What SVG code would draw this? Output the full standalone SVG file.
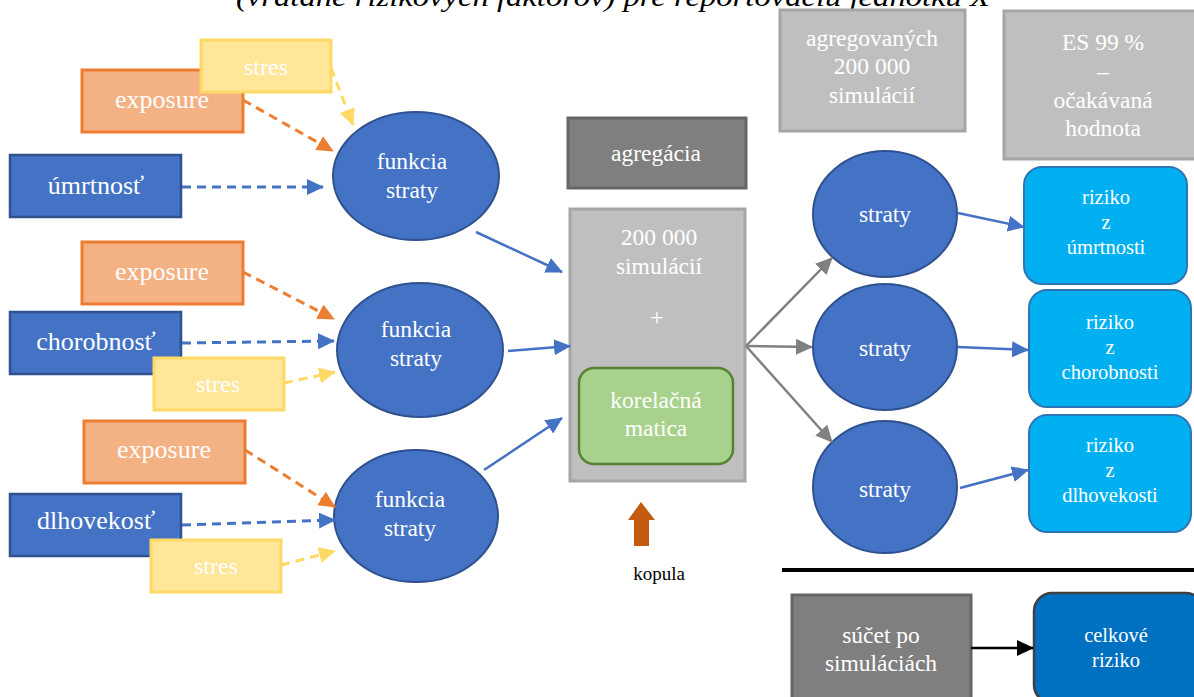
<svg xmlns="http://www.w3.org/2000/svg" width="1194" height="697" viewBox="0 0 1194 697">
<style>
.t{font-family:"Liberation Serif","Times New Roman",serif;font-size:23.5px;fill:#fff;text-anchor:middle;dominant-baseline:central}
.L{font-size:26px}
.S{font-size:24px}
.R{font-size:20.5px}
.title{font-family:"Liberation Serif","Times New Roman",serif;font-size:27px;font-style:italic;fill:#000}
.exp{fill:#F4B183;stroke:#ED7D31;stroke-width:3}
.str{fill:#FFE699;stroke:#FFD966;stroke-width:3}
.blu{fill:#4472C4;stroke:#2F528F;stroke-width:2.5}
.ell{fill:#4472C4;stroke:#2F528F;stroke-width:2}
.gry{fill:#BFBFBF;stroke:#A5A5A5;stroke-width:3}
.dgr{fill:#7F7F7F;stroke:#666;stroke-width:3}
.riz{fill:#00B0F0;stroke:#2E75B6;stroke-width:2}
.dO{stroke:#ED7D31;stroke-width:3;stroke-dasharray:9 6;fill:none}
.dY{stroke:#FFD966;stroke-width:3;stroke-dasharray:9 6;fill:none}
.dB{stroke:#4472C4;stroke-width:3;stroke-dasharray:9 6;fill:none}
.sB{stroke:#4472C4;stroke-width:2.5;fill:none}
.sG{stroke:#808080;stroke-width:2.5;fill:none}
.sK{stroke:#000;stroke-width:2.5;fill:none}
</style>
<defs>
<marker id="aO" markerUnits="userSpaceOnUse" markerWidth="18" markerHeight="18" refX="16" refY="8" orient="auto"><path d="M0,0 L17,8 L0,16 Z" fill="#ED7D31"/></marker>
<marker id="aY" markerUnits="userSpaceOnUse" markerWidth="18" markerHeight="18" refX="16" refY="8" orient="auto"><path d="M0,0 L17,8 L0,16 Z" fill="#FFD966"/></marker>
<marker id="aB" markerUnits="userSpaceOnUse" markerWidth="18" markerHeight="18" refX="16" refY="8" orient="auto"><path d="M0,0 L17,8 L0,16 Z" fill="#4472C4"/></marker>
<marker id="aG" markerUnits="userSpaceOnUse" markerWidth="18" markerHeight="18" refX="16" refY="8" orient="auto"><path d="M0,0 L17,8 L0,16 Z" fill="#808080"/></marker>
<marker id="aK" markerUnits="userSpaceOnUse" markerWidth="18" markerHeight="18" refX="16" refY="8" orient="auto"><path d="M0,0 L17,8 L0,16 Z" fill="#000"/></marker>
</defs>
<rect width="1194" height="697" fill="#fff"/>
<text class="title" x="236" y="6" textLength="754" lengthAdjust="spacingAndGlyphs">(vrátane rizikových faktorov) pre reportovaciu jednotku X</text>

<g id="exposure1"><rect class="exp" x="82" y="70" width="161" height="62"/><text class="t L" x="162" y="99">exposure</text></g>
<g id="stres1"><rect class="str" x="201" y="40" width="130" height="52"/><text class="t S" x="266" y="67">stres</text></g>
<g id="umrtnost"><rect class="blu" x="10" y="155" width="171" height="62"/><text class="t L" x="96" y="185">úmrtnosť</text></g>
<g id="funkcia1"><ellipse class="ell" cx="416" cy="176" rx="83" ry="64"/><text class="t" x="412" y="161">funkcia</text><text class="t" x="412" y="190">straty</text></g>

<g id="exposure2"><rect class="exp" x="82" y="242" width="161" height="62"/><text class="t L" x="162" y="271">exposure</text></g>
<g id="chorobnost"><rect class="blu" x="10" y="312" width="171" height="62"/><text class="t L" x="96" y="341">chorobnosť</text></g>
<g id="stres2"><rect class="str" x="154" y="358" width="130" height="52"/><text class="t S" x="218" y="384">stres</text></g>
<g id="funkcia2"><ellipse class="ell" cx="420" cy="350" rx="83" ry="67"/><text class="t" x="416" y="329">funkcia</text><text class="t" x="416" y="358">straty</text></g>

<g id="exposure3"><rect class="exp" x="84" y="421" width="161" height="62"/><text class="t L" x="164" y="449">exposure</text></g>
<g id="dlhovekost"><rect class="blu" x="10" y="494" width="171" height="62"/><text class="t L" x="96" y="520">dlhovekosť</text></g>
<g id="stres3"><rect class="str" x="151" y="540" width="130" height="52"/><text class="t S" x="216" y="566">stres</text></g>
<g id="funkcia3"><ellipse class="ell" cx="416" cy="516" rx="82" ry="66"/><text class="t" x="410" y="499">funkcia</text><text class="t" x="410" y="528">straty</text></g>

<g id="agregacia"><rect class="dgr" x="568" y="118" width="178" height="70"/><text class="t" x="656" y="153">agregácia</text></g>
<g id="simulacie"><rect class="gry" x="570" y="209" width="175" height="272"/><text class="t" x="659" y="237">200 000</text><text class="t" x="659" y="266">simulácií</text><text class="t" x="657" y="317">+</text></g>
<g id="korelacna"><rect x="579" y="368" width="154" height="96" rx="15" fill="#A9D18E" stroke="#548235" stroke-width="2.5"/><text class="t" x="656" y="400">korelačná</text><text class="t" x="656" y="428">matica</text></g>
<g id="kopula"><path d="M634,546 L634,520 L628,520 L641,502 L655,520 L649,520 L649,546 Z" fill="#C55A11"/><text x="659" y="573" font-family="Liberation Serif, serif" font-size="19" fill="#000" text-anchor="middle" dominant-baseline="central">kopula</text></g>

<g id="agregovanych"><rect class="gry" x="780" y="10" width="185" height="121"/><text class="t" x="872" y="38">agregovaných</text><text class="t" x="872" y="66">200 000</text><text class="t" x="872" y="95">simulácií</text></g>
<g id="es"><rect class="gry" x="1004" y="11" width="196" height="148"/><text class="t" x="1103" y="42">ES 99 %</text><text class="t" x="1103" y="71">–</text><text class="t" x="1103" y="100">očakávaná</text><text class="t" x="1103" y="128">hodnota</text></g>

<g id="straty1"><ellipse class="ell" cx="885" cy="214" rx="72" ry="63"/><text class="t" x="885" y="214">straty</text></g>
<g id="straty2"><ellipse class="ell" cx="885" cy="347" rx="72" ry="63"/><text class="t" x="885" y="348">straty</text></g>
<g id="straty3"><ellipse class="ell" cx="885" cy="487" rx="72" ry="66"/><text class="t" x="885" y="489">straty</text></g>

<g id="riziko1"><rect class="riz" x="1024" y="167" width="163" height="117" rx="18"/><text class="t R" x="1106" y="197">riziko</text><text class="t R" x="1106" y="222">z</text><text class="t R" x="1106" y="247">úmrtnosti</text></g>
<g id="riziko2"><rect class="riz" x="1029" y="290" width="162" height="117" rx="18"/><text class="t R" x="1110" y="322">riziko</text><text class="t R" x="1110" y="347">z</text><text class="t R" x="1110" y="372">chorobnosti</text></g>
<g id="riziko3"><rect class="riz" x="1029" y="415" width="162" height="117" rx="18"/><text class="t R" x="1110" y="445">riziko</text><text class="t R" x="1110" y="470">z</text><text class="t R" x="1110" y="495">dlhovekosti</text></g>

<line x1="782" y1="570" x2="1194" y2="570" stroke="#000" stroke-width="4"/>
<g id="sucet"><rect class="dgr" x="792" y="595" width="179" height="110"/><text class="t" x="881" y="635">súčet po</text><text class="t" x="881" y="663">simuláciách</text></g>
<g id="celkove"><rect x="1034" y="593" width="170" height="110" rx="18" fill="#0070C0" stroke="#404040" stroke-width="2.5"/><text class="t R" x="1116" y="635">celkové</text><text class="t R" x="1116" y="660">riziko</text></g>

<g id="connectors">
<line class="dO" x1="243" y1="100" x2="333" y2="151" marker-end="url(#aO)"/>
<line class="dY" x1="331" y1="68" x2="353" y2="125" marker-end="url(#aY)"/>
<line class="dB" x1="182" y1="187" x2="323" y2="187" marker-end="url(#aB)"/>
<line class="dO" x1="243" y1="272" x2="334" y2="319" marker-end="url(#aO)"/>
<line class="dB" x1="182" y1="343" x2="334" y2="341" marker-end="url(#aB)"/>
<line class="dY" x1="284" y1="383" x2="335" y2="372" marker-end="url(#aY)"/>
<line class="dO" x1="245" y1="450" x2="335" y2="507" marker-end="url(#aO)"/>
<line class="dB" x1="182" y1="525" x2="335" y2="520" marker-end="url(#aB)"/>
<line class="dY" x1="281" y1="565" x2="335" y2="551" marker-end="url(#aY)"/>
<line class="sB" x1="476" y1="232" x2="562" y2="272" marker-end="url(#aB)"/>
<line class="sB" x1="508" y1="351" x2="570" y2="346" marker-end="url(#aB)"/>
<line class="sB" x1="484" y1="470" x2="562" y2="418" marker-end="url(#aB)"/>
<line class="sG" x1="746" y1="346" x2="832" y2="258" marker-end="url(#aG)"/>
<line class="sG" x1="746" y1="346" x2="812" y2="347" marker-end="url(#aG)"/>
<line class="sG" x1="746" y1="346" x2="832" y2="442" marker-end="url(#aG)"/>
<line class="sB" x1="958" y1="213" x2="1024" y2="227" marker-end="url(#aB)"/>
<line class="sB" x1="958" y1="347" x2="1028" y2="350" marker-end="url(#aB)"/>
<line class="sB" x1="960" y1="488" x2="1028" y2="470" marker-end="url(#aB)"/>
<line class="sK" x1="971" y1="648" x2="1033" y2="648" marker-end="url(#aK)"/>
</g>
</svg>
